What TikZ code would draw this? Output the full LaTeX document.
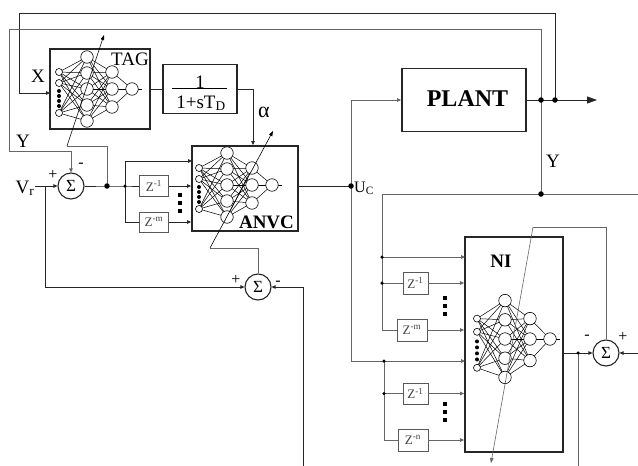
\documentclass[tikz,border=0pt]{standalone}
\usepackage{fontspec}
\setmainfont{Liberation Serif}
\usetikzlibrary{arrows.meta,calc}
\tikzset{
 conn/.style={line width=0.8pt, draw=black!85},
 gconn/.style={line width=0.8pt, draw=black!60},
 arr/.style={-{Triangle[length=4pt,width=3.5pt]}},
 bigarr/.style={-{Triangle[length=10pt,width=7pt]}},
 blk/.style={draw=black!85, line width=1.8pt, rectangle, inner sep=0pt},
 zbox/.style={draw=black!65, line width=0.9pt, rectangle, inner sep=0pt, font=\fontsize{13}{14}\selectfont, text=black!75},
 sumc/.style={circle, draw=black!85, line width=1.1pt, minimum size=26pt, inner sep=0pt, font=\fontsize{17}{18}\selectfont},
 neuron/.style={circle, draw=black, line width=0.6pt, fill=white, minimum size=12.5pt, inner sep=0pt},
 inneuron/.style={circle, draw=black, line width=0.6pt, fill=white, minimum size=7pt, inner sep=0pt},
 ndot/.style={circle, fill=black, minimum size=4pt, inner sep=0pt},
 jdot/.style={circle, fill=black, minimum size=5.5pt, inner sep=0pt},
 sdot/.style={circle, fill=black, minimum size=3.5pt, inner sep=0pt},
 nnline/.style={line width=0.5pt},
 adapt/.style={line width=0.6pt, -{Triangle[length=5pt,width=3.5pt]}},
 lbl/.style={font=\fontsize{19}{20}\selectfont, inner sep=0pt},
 blbl/.style={font=\bfseries\fontsize{19}{20}\selectfont, inner sep=0pt},
 sgn/.style={font=\fontsize{16}{17}\selectfont, inner sep=0pt},
 sq/.style={fill=black, minimum width=4pt, minimum height=4pt, inner sep=0pt, rectangle},
}
% #1 prefix, #2 x, #3 y, #4 yscale
\newcommand\annet[4]{%
\begin{scope}[shift={(#2,#3)},yscale=#4]
 \foreach \a in {-17,-6,24} {\foreach \b in {-32,-16,0,16,32} {\draw[nnline] (-28,\a) -- (0,\b);}}
 \foreach \a in {-32,-16,0,16,32} {\foreach \b in {-17,0,18} {\draw[nnline] (0,\a) -- (25,\b);}}
 \foreach \b in {-17,0,18} {\draw[nnline] (25,\b) -- (45,0);}
 \draw[nnline] (45,0) -- (55,0);
 \foreach \a/\n in {-17/1,-6/2,24/3} {\node[inneuron] (#1i\n) at (-28,\a) {};}
 \foreach \a/\n in {2/1,7/2,12/3,17/4} {\node[ndot] (#1d\n) at (-28,\a) {};}
 \foreach \a/\n in {-32/1,-16/2,0/3,16/4,32/5} {\node[neuron] (#1h\n) at (0,\a) {};}
 \foreach \a/\n in {-17/1,0/2,18/3} {\node[neuron] (#1k\n) at (25,\a) {};}
 \node[neuron] (#1o) at (45,0) {};
\end{scope}}
\begin{document}
\begin{tikzpicture}[x=1pt,y=-1pt]
\useasboundingbox (0,0) rectangle (638,466);
\fill[white] (0,0) rectangle (638,466);

% ---------- blocks
\node[blk, minimum width=100pt, minimum height=80pt] (tag) at (100,89) {};
\node[blk, minimum width=74pt, minimum height=49pt] (fr) at (200,89) {};
\node[blk, minimum width=106pt, minimum height=85pt] (anvc) at (245,188.5) {};
\node[blk, minimum width=124pt, minimum height=63pt] (plant) at (464,100) {};
\node[blk, minimum width=98pt, minimum height=215pt] (ni) at (514,344.5) {};

\node[zbox, minimum width=29pt, minimum height=21pt] (za1) at (154,186) {Z\textsuperscript{-1}};
\node[zbox, minimum width=29pt, minimum height=20pt] (zam) at (154,222) {Z\textsuperscript{-m}};
\node[zbox, minimum width=25pt, minimum height=22pt] (zb1) at (415.5,283) {Z\textsuperscript{-1}};
\node[zbox, minimum width=30pt, minimum height=22pt] (zbm) at (412,330) {Z\textsuperscript{-m}};
\node[zbox, minimum width=25pt, minimum height=21pt] (zc1) at (415.5,393.5) {Z\textsuperscript{-1}};
\node[zbox, minimum width=30pt, minimum height=22pt] (zcn) at (413,440) {Z\textsuperscript{-n}};

\node[sumc] (s1) at (71,186) {Σ};
\node[sumc] (s2) at (258,287) {Σ};
\node[sumc] (s3) at (606,353) {Σ};

% ---------- neural nets
\annet{t}{87}{89}{1}
\annet{a}{227}{185}{1}
\annet{n}{505}{339}{1.2}

% ---------- texts
\node[lbl] (tagl) at (130,59.5) {TAG};
\node[blbl] (anvcl) at (266.5,222.5) {ANVC};
\node[blbl] (nil) at (501,261.5) {NI};
\node[blbl, font=\bfseries\fontsize{24}{26}\selectfont] (plantl) at (467.5,98.5) {PLANT};
\node[lbl] (num) at (200,82.5) {1};
\node[lbl, anchor=base] (den) at (201,108) {1+sT\textsubscript{D}};
\draw[line width=0.8pt] (172,88.5) coordinate (fl1) -- (227,88.5) coordinate (fl2);
\node[lbl] (xl) at (38,76.5) {X};
\node[lbl] (yl1) at (23,141) {Y};
\node[lbl, anchor=base] (vrl) at (25,193) {V\textsubscript{r}};
\node[lbl, font=\fontsize{22}{24}\selectfont] (al) at (264,112) {α};
\node[lbl, font=\fontsize{16}{18}\selectfont, anchor=base west] (ucl) at (354,192) {U\textsubscript{C}};
\node[lbl] (yl2) at (553,161.5) {Y};
\node[sgn] (p1) at (53,175) {+};
\node[sgn] (m1) at (81,165) {-};
\node[sgn] (p2) at (236,280) {+};
\node[sgn] (m2) at (278,283) {-};
\node[sgn] (m3) at (587,337) {-};
\node[sgn] (p3) at (623,337) {+};

% vertical dots
\foreach \y/\n in {195/1,203/2,211/3} {\node[sq] (qa\n) at (180,\y) {};}
\foreach \y/\n in {298/1,306/2,314/3} {\node[sq] (qb\n) at (445,\y) {};}
\foreach \y/\n in {404/1,412/2,420/3} {\node[sq] (qc\n) at (445,\y) {};}

% ---------- coordinates
\coordinate (ydotA) at (555,100);
\coordinate (ydotB) at (541,100);
\coordinate (ydotC) at (541,194);
\coordinate (tlA) at (19,13);
\coordinate (tagin) at (50,93);
\coordinate (tlB) at (9,29);
\coordinate (yout) at (597,100);
\coordinate (redge1) at (638,194);
\coordinate (b1) at (382,194);
\coordinate (b1a) at (382,257);
\coordinate (b1b) at (382,283);
\coordinate (niin1) at (465,257);
\coordinate (uc) at (351,186);
\coordinate (ucin) at (465,361);
\coordinate (b2) at (384,361);
\coordinate (b2b) at (384,393.5);
\coordinate (vrs) at (35,186);
\coordinate (e1) at (107,186);
\coordinate (e2) at (125,186);
\coordinate (anvcin1) at (192,161);
\coordinate (t1) at (67,146);
\coordinate (t2) at (104,35);
\coordinate (v45) at (45,186);
\coordinate (a1) at (210,248);
\coordinate (a2) at (273,131);
\coordinate (s2b) at (303,466);
\coordinate (n1) at (578,353);
\coordinate (n1b) at (578,466);
\coordinate (c1) at (533,227);
\coordinate (c2) at (491,463);
\coordinate (s3in) at (638,353);

% ---------- connectors
\draw[conn,arr] (ydotA) |- (tlA) |- (tagin);
\draw[gconn,arr] (ydotB) |- (tlB) |- ([yshift=21pt]s1.north) -- (s1.north);
\draw[conn,bigarr] (plant.east) -- (yout);
\draw[gconn] (ydotB) -- (ydotC) -- (redge1);
\draw[gconn] (ydotC) -- (b1) |- (zbm.west);
\draw[gconn,arr] (b1a) -- (niin1);
\draw[gconn] (b1b) -- (zb1.west);
\draw[gconn,arr] (zb1.east) -- (zb1.east -| ni.west);
\draw[gconn,arr] (zbm.east) -- (zbm.east -| ni.west);
\node[jdot] (jA) at (ydotA) {};
\node[jdot] (jB) at (ydotB) {};
\node[jdot] (jC) at (ydotC) {};
\node[sdot] (jb1a) at (b1a) {};
\node[sdot] (jb1b) at (b1b) {};

\draw[conn] (anvc.east |- uc) -- (uc);
\draw[gconn,arr] (uc) |- (plant.west);
\draw[gconn,arr] (uc) |- (ucin);
\draw[gconn] (b2) |- (zcn.west);
\draw[gconn] (b2b) -- (zc1.west);
\draw[gconn,arr] (zc1.east) -- (zc1.east -| ni.west);
\draw[gconn,arr] (zcn.east) -- (zcn.east -| ni.west);
\node[jdot] (juc) at (uc) {};
\node[sdot] (jb2) at (b2) {};
\node[sdot] (jb2b) at (b2b) {};

\draw[conn] (tag.east) -- (fr.west);
\draw[conn,arr] (fr.east) -| ([xshift=8pt]anvc.north);

\draw[conn,arr] (vrs) -- (s1.west);
\draw[conn] (s1.east) -- (e1) -- (e2) -- (za1.west);
\draw[conn,arr] (e2) |- (anvcin1);
\draw[conn] (e2) |- (zam.west);
\draw[conn,arr] (za1.east) -- (za1.east -| anvc.west);
\draw[conn,arr] (zam.east) -- (zam.east -| anvc.west);
\draw[gconn] (e1) |- (t1);
\draw[adapt] (t1) -- (t2);
\node[jdot] (je1) at (e1) {};
\node[sdot] (je2) at (e2) {};

\draw[conn,arr] (v45) |- (s2.west);
\draw[gconn] (s2.north) |- (a1);
\draw[adapt] (a1) -- (a2);
\draw[conn,arr] (s2b) |- (s2.east);

\draw[conn,arr] (ni.east |- s3.west) -- (s3.west);
\draw[gconn] (n1) -- (n1b);
\node[sdot] (jn1) at (n1) {};
\draw[gconn] (s3.north) |- (c1);
\draw[adapt, draw=black!60] (c1) -- (c2);
\draw[conn,arr] (s3in) -- (s3.east);
\end{tikzpicture}
\end{document}
